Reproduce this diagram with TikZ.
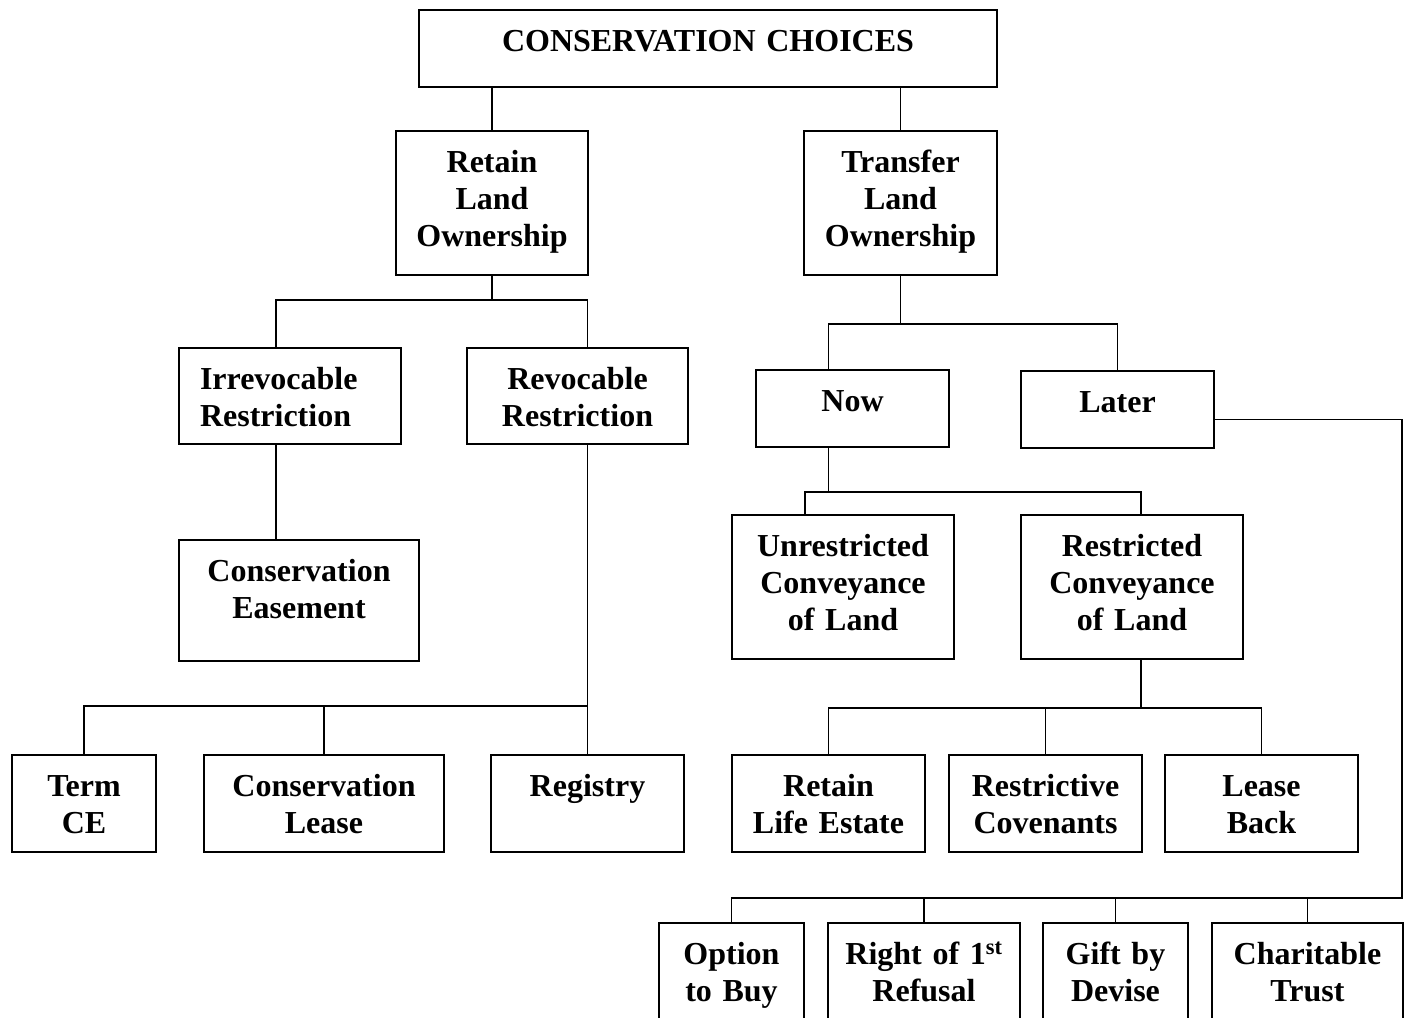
\documentclass[tikz,border=0pt]{standalone}
\usepackage{fontspec}
\setmainfont{Liberation Serif}

\begin{document}
\begin{tikzpicture}[x=1pt,y=-1pt,
  box/.style={draw, line width=2pt, inner sep=0pt, anchor=north west, align=center,
    text height=41pt, font=\fontsize{32}{37}\selectfont\bfseries},
  link/.style={line width=1.8pt}]
\useasboundingbox (0,0) rectangle (1407,1017);

 \node[box, text width=578pt, text depth=36pt] (root) at (418,9) {CONSERVATION CHOICES};
 \node[box, text width=192pt, text depth=103pt] (ret) at (395,130) {Retain\\Land\\Ownership};
 \node[box, text width=193pt, text depth=103pt] (trans) at (803,130) {Transfer\\Land\\Ownership};

 \node[box, align=left, text width=180pt, inner xsep=21pt, text depth=55pt] (irr) at (178,347) {Irrevocable\\Restriction};
 \node[box, text width=221pt, text depth=55pt] (rev) at (466,347) {Revocable\\Restriction};
 \node[box, text width=240pt, text depth=80pt] (ease) at (178,539) {Conservation\\Easement};
 \node[box, text width=144pt, text depth=56pt] (term) at (11,754) {Term\\CE};
 \node[box, text width=240pt, text depth=56pt] (lease) at (203,754) {Conservation\\Lease};
 \node[box, text width=193pt, text depth=56pt] (reg) at (490,754) {Registry};

 \node[box, text width=193pt, text depth=36pt] (now) at (755,369) {Now};
 \node[box, text width=193pt, text depth=36pt] (later) at (1020,370) {Later};
 \node[box, text width=222pt, text depth=103pt] (unres) at (731,514) {Unrestricted\\Conveyance\\of Land};
 \node[box, text width=222pt, text depth=103pt] (res) at (1020,514) {Restricted\\Conveyance\\of Land};
 \node[box, text width=193pt, text depth=56pt] (life) at (731,754) {Retain\\Life Estate};
 \node[box, text width=193pt, text depth=56pt] (cov) at (948,754) {Restrictive\\Covenants};
 \node[box, text width=193pt, text depth=56pt] (back) at (1164,754) {Lease\\Back};

 \node[box, text width=145pt, text depth=58pt] (opt) at (658,922) {Option\\to Buy};
 \node[box, text width=192pt, text depth=58pt] (first) at (827,922) {Right of 1\textsuperscript{st}\\Refusal};
 \node[box, text width=145pt, text depth=58pt] (gift) at (1042,922) {Gift by\\Devise};
 \node[box, text width=191pt, text depth=58pt] (trust) at (1211,922) {Charitable\\Trust};

 % left branch
 \draw[link] (ret.north |- root.south) -- (ret.north);
 \draw[link] (ret.south) -- ++(0,24) coordinate (j1);
 \draw[link] ([xshift=-14pt]irr.north) |- (j1) -| (reg.north |- rev.north);
 \draw[link] ([xshift=-14pt]irr.south) -- ([xshift=-14pt]irr.south |- ease.north);
 \draw[link] (reg.north |- rev.south) -- (reg.north);
 \path (reg.north) ++(0,-48) coordinate (j2);
 \draw[link] (term.north) |- (j2);
 \draw[link] (lease.north) -- (lease.north |- j2);

 % right branch
 \draw[link] (trans.north |- root.south) -- (trans.north);
 \draw[link] (trans.south) -- ++(0,48) coordinate (j3);
 \draw[link] ([xshift=-24pt]now.north) |- (j3) -| (later.north);
 \draw[link] ([xshift=-24pt]now.south) -- ++(0,44) coordinate (j4);
 \draw[link] ([xshift=-38pt]unres.north) |- (j4) -| ([xshift=9pt]res.north);
 \draw[link] ([xshift=9pt]res.south) -- ++(0,48) coordinate (j5);
 \draw[link] (life.north) |- (j5) -| (back.north);
 \draw[link] (cov.north) -- (cov.north |- j5);

 % later
 \coordinate (j6) at (1402,898);
 \draw[link] ([yshift=-10pt]later.east) -| (j6) -| (opt.north);
 \foreach \n in {first,gift,trust}
   \draw[link] (\n.north) -- (\n.north |- j6);
\end{tikzpicture}
\end{document}
